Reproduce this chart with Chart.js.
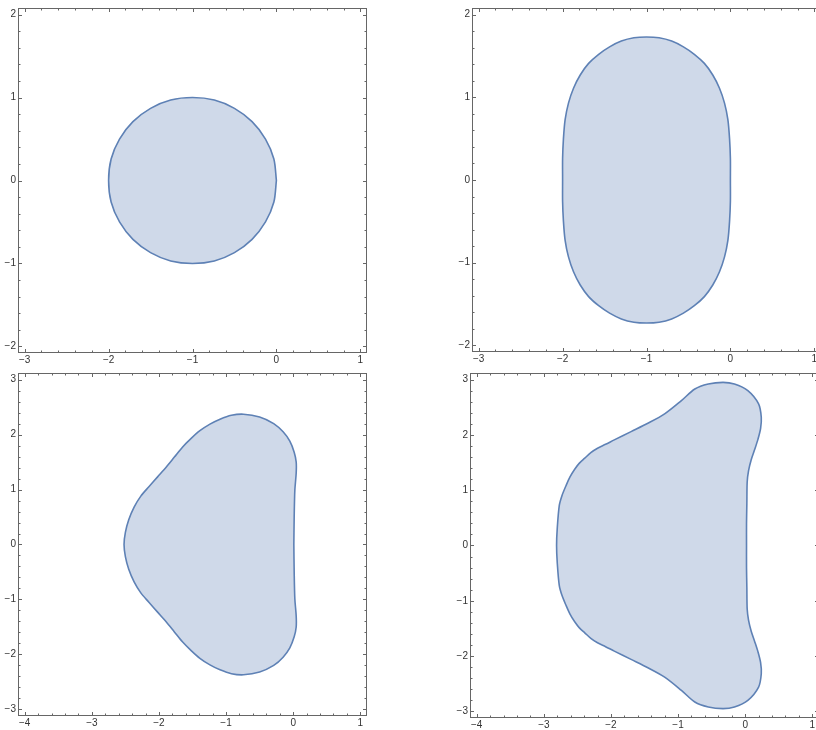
<!DOCTYPE html>
<html>
<head>
<meta charset="utf-8">
<script src="https://cdn.jsdelivr.net/npm/chart.js@4.4.0/dist/chart.umd.min.js"></script>
<style>
  html, body { margin: 0; padding: 0; background: #fff; overflow: hidden; width: 816px; height: 730px; }
  canvas { position: absolute; }
</style>
</head>
<body>
<canvas id="p1" width="380" height="365" style="left:0;top:0;width:380px;height:365px"></canvas>
<canvas id="p2" width="380" height="364" style="left:454px;top:0;width:380px;height:364px"></canvas>
<canvas id="p3" width="380" height="363" style="left:0;top:365px;width:380px;height:363px"></canvas>
<canvas id="p4" width="380" height="365" style="left:452px;top:365px;width:380px;height:365px"></canvas>
<script>
// outlines, [x, y]
const circleRegion = [
  [0,0],[-0.03,0.26],[-0.13,0.5],[-0.29,0.71],[-0.5,0.87],[-0.74,0.97],[-1,1],
  [-1.26,0.97],[-1.5,0.87],[-1.71,0.71],[-1.87,0.5],[-1.97,0.26],[-2,0],
  [-1.97,-0.26],[-1.87,-0.5],[-1.71,-0.71],[-1.5,-0.87],[-1.26,-0.97],[-1,-1],
  [-0.74,-0.97],[-0.5,-0.87],[-0.29,-0.71],[-0.13,-0.5],[-0.03,-0.26],[0,0]
];
const ovalRegion = [
  [0,0],[0,0.26],[-0.01,0.5],[-0.03,0.73],[-0.07,0.93],[-0.13,1.11],[-0.21,1.27],
  [-0.31,1.41],[-0.43,1.52],[-0.56,1.61],[-0.7,1.68],[-0.85,1.72],[-1,1.73],
  [-1.15,1.72],[-1.3,1.68],[-1.44,1.61],[-1.57,1.52],[-1.69,1.41],[-1.79,1.27],
  [-1.87,1.11],[-1.93,0.93],[-1.97,0.73],[-1.99,0.5],[-2,0.26],[-2,0],
  [-2,-0.26],[-1.99,-0.5],[-1.97,-0.73],[-1.93,-0.93],[-1.87,-1.11],[-1.79,-1.27],
  [-1.69,-1.41],[-1.57,-1.52],[-1.44,-1.61],[-1.3,-1.68],[-1.15,-1.72],[-1,-1.73],
  [-0.85,-1.72],[-0.7,-1.68],[-0.56,-1.61],[-0.43,-1.52],[-0.31,-1.41],[-0.21,-1.27],
  [-0.13,-1.11],[-0.07,-0.93],[-0.03,-0.73],[-0.01,-0.5],[0,-0.26],[0,0]
];
const triRegion = [
  [0.01,0],[0.015,0.5],[0.025,0.99],[0.045,1.3],[0.045,1.5],[0.015,1.68],[-0.05,1.88],
  [-0.15,2.05],[-0.29,2.2],[-0.5,2.32],[-0.74,2.37],[-0.92,2.35],[-1.09,2.28],
  [-1.24,2.19],[-1.39,2.07],[-1.52,1.93],[-1.65,1.77],[-1.77,1.59],[-1.89,1.41],
  [-2.02,1.23],[-2.15,1.05],[-2.27,0.88],[-2.37,0.68],[-2.45,0.45],[-2.5,0.22],[-2.52,0],
  [-2.5,-0.22],[-2.45,-0.45],[-2.37,-0.68],[-2.27,-0.88],[-2.15,-1.05],[-2.02,-1.23],
  [-1.89,-1.41],[-1.77,-1.59],[-1.65,-1.77],[-1.52,-1.93],[-1.39,-2.07],[-1.24,-2.19],
  [-1.09,-2.28],[-0.92,-2.35],[-0.74,-2.37],[-0.5,-2.32],[-0.29,-2.2],[-0.15,-2.05],
  [-0.05,-1.88],[0.015,-1.68],[0.045,-1.5],[0.045,-1.3],[0.025,-0.99],[0.015,-0.5],[0.01,0]
];
const quadRegion = [
  [0.02,0],[0.02,0.4],[0.025,0.75],[0.03,1.15],[0.05,1.35],[0.09,1.55],[0.14,1.73],
  [0.19,1.92],[0.23,2.12],[0.24,2.32],[0.2,2.56],[0.04,2.8],[-0.16,2.92],[-0.33,2.95],
  [-0.55,2.92],[-0.75,2.83],[-0.95,2.62],[-1.2,2.38],[-1.45,2.21],[-1.7,2.06],
  [-1.95,1.91],[-2.08,1.83],[-2.2,1.76],[-2.3,1.68],[-2.39,1.58],[-2.47,1.49],
  [-2.54,1.38],[-2.61,1.24],[-2.67,1.08],[-2.73,0.9],[-2.77,0.72],[-2.8,0.31],[-2.81,0],
  [-2.8,-0.31],[-2.77,-0.72],[-2.73,-0.9],[-2.67,-1.08],[-2.61,-1.24],[-2.54,-1.38],
  [-2.47,-1.49],[-2.39,-1.58],[-2.3,-1.68],[-2.2,-1.76],[-2.08,-1.83],[-1.95,-1.91],
  [-1.7,-2.06],[-1.45,-2.21],[-1.2,-2.38],[-0.95,-2.62],[-0.75,-2.83],[-0.55,-2.92],
  [-0.33,-2.95],[-0.16,-2.92],[0.04,-2.8],[0.2,-2.56],[0.24,-2.32],[0.23,-2.12],
  [0.19,-1.92],[0.14,-1.73],[0.09,-1.55],[0.05,-1.35],[0.03,-1.15],[0.025,-0.75],
  [0.02,-0.4],[0.02,0]
];

const topXTicks = [-3, -2, -1, 0, 1];
const topYTicks = [-2, -1, 0, 1, 2];
const bottomXTicks = [-4, -3, -2, -1, 0, 1];
const bottomYTicks = [-3, -2, -1, 0, 1, 2, 3];

const frameColor = '#666666';
const labelColor = '#333333';

// Mathematica-like frame with inward ticks on all four sides
const framePlugin = {
  id: 'frame',
  afterDraw(chart) {
    const { ctx, chartArea: a, scales: { x, y } } = chart;
    ctx.save();
    ctx.strokeStyle = frameColor;
    ctx.lineWidth = 1;
    ctx.beginPath();
    for (let v = Math.ceil(x.min / 0.2) * 0.2; v <= x.max + 1e-9; v += 0.2) {
      const major = Math.abs(v - Math.round(v)) < 1e-6;
      const len = major ? 4 : 2.5;
      const px = Math.round(x.getPixelForValue(v)) + 0.5;
      ctx.moveTo(px, a.bottom); ctx.lineTo(px, a.bottom - len);
      ctx.moveTo(px, a.top); ctx.lineTo(px, a.top + len);
    }
    for (let v = Math.ceil(y.min / 0.2) * 0.2; v <= y.max + 1e-9; v += 0.2) {
      const major = Math.abs(v - Math.round(v)) < 1e-6;
      const len = major ? 4 : 2.5;
      const py = Math.round(y.getPixelForValue(v)) + 0.5;
      ctx.moveTo(a.left, py); ctx.lineTo(a.left + len, py);
      ctx.moveTo(a.right, py); ctx.lineTo(a.right - len, py);
    }
    ctx.stroke();
    ctx.strokeRect(Math.round(a.left) + 0.5, Math.round(a.top) + 0.5,
      Math.round(a.right - a.left) - 1, Math.round(a.bottom - a.top) - 1);
    ctx.restore();
  }
};

function fmt(v) {
  return v < 0 ? '\u2212' + (-v) : String(v);
}

function makePanel(id, outline, xr, yr, xTicks, yTicks, padTop) {
  const tickFont = { family: 'Liberation Sans, Arial, sans-serif', size: 10 };
  new Chart(document.getElementById(id), {
    type: 'scatter',
    data: {
      datasets: [{
        data: outline.map(p => ({ x: p[0], y: p[1] })),
        showLine: true,
        fill: 'shape',
        backgroundColor: 'rgb(207,217,233)',
        borderColor: '#5e81b5',
        borderWidth: 1.6,
        pointRadius: 0,
        tension: 0.3
      }]
    },
    options: {
      responsive: false,
      animation: false,
      layout: { padding: { top: padTop, right: 13, left: 0, bottom: 0 } },
      plugins: { legend: { display: false }, tooltip: { enabled: false } },
      scales: {
        x: {
          type: 'linear', min: xr[0], max: xr[1],
          afterBuildTicks: s => { s.ticks = xTicks.map(v => ({ value: v })); },
          afterFit: s => { s.height = 12; },
          grid: { display: false, drawTicks: false, tickLength: 0 }, border: { display: false },
          ticks: { font: tickFont, color: labelColor, padding: 1, maxRotation: 0, autoSkip: false, callback: fmt }
        },
        y: {
          type: 'linear', min: yr[0], max: yr[1],
          afterBuildTicks: s => { s.ticks = yTicks.map(v => ({ value: v })); },
          afterFit: s => { s.width = 18; },
          grid: { display: false, drawTicks: false, tickLength: 0 }, border: { display: false },
          ticks: { font: tickFont, color: labelColor, padding: 2, autoSkip: false, callback: fmt }
        }
      }
    },
    plugins: [framePlugin]
  });
}

makePanel('p1', circleRegion, [-3.08, 1.08], [-2.08, 2.08], topXTicks, topYTicks, 5);
makePanel('p2', ovalRegion, [-3.08, 1.08], [-2.08, 2.08], topXTicks, topYTicks, 5);
makePanel('p3', triRegion, [-4.1, 1.1], [-3.12, 3.12], bottomXTicks, bottomYTicks, 4);
makePanel('p4', quadRegion, [-4.1, 1.1], [-3.12, 3.12], bottomXTicks, bottomYTicks, 2);
</script>
</body>
</html>
